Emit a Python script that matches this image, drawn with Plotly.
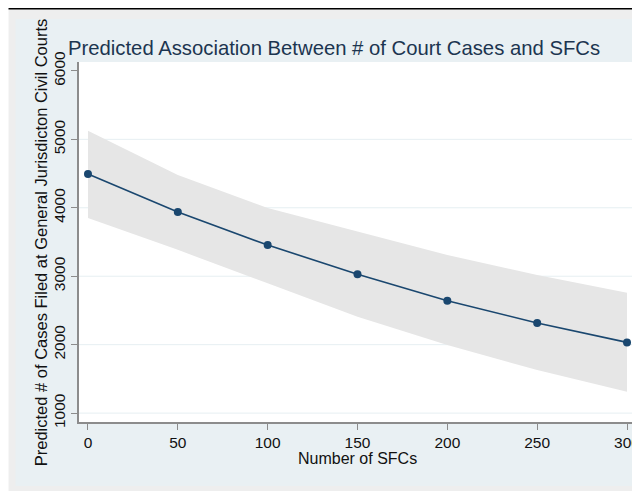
import plotly.graph_objects as go

# Data
sfcs = [0, 50, 100, 150, 200, 250, 300]
predicted = [4495, 3940, 3455, 3030, 2642, 2316, 2033]
upper_ci = [5125, 4480, 3995, 3650, 3310, 3018, 2760]
lower_ci = [3850, 3385, 2896, 2408, 1994, 1630, 1312]
x_ticks = [0, 50, 100, 150, 200, 250, 300]
y_ticks = [1000, 2000, 3000, 4000, 5000, 6000]
y_grid = [1000, 2000, 3000, 4000, 5000]

title_text = "Predicted Association Between # of Court Cases and SFCs"
x_title = "Number of SFCs"
y_title = "Predicted # of Cases Filed at General Jurisdicton Civil Courts"

NAVY = "#1a476f"
FONT = "Liberation Sans, Arial, sans-serif"

# page has an 8px body margin, so the figure is 8px smaller than the window
W, H = 632, 483
L, R, T, B = 71, 0, 54, 69
pw = W - L - R
ph = H - T - B


def px_x(p):
    return (p - L) / pw


def px_y(p):
    return (H - B - p) / ph


fig = go.Figure()

# confidence band
fig.add_trace(go.Scatter(
    x=sfcs + sfcs[::-1],
    y=upper_ci + lower_ci[::-1],
    fill="toself", fillcolor="#e6e6e6",
    line=dict(width=0), mode="lines", hoverinfo="skip", showlegend=False,
))
# predicted line
fig.add_trace(go.Scatter(
    x=sfcs, y=predicted, mode="lines+markers",
    line=dict(color=NAVY, width=1.6),
    marker=dict(color=NAVY, size=8),
    showlegend=False,
))

shapes = [
    # outer gray frame
    dict(type="rect", xref="paper", yref="paper", x0=px_x(0), x1=1.02,
         y0=px_y(484), y1=px_y(1), fillcolor="#eeeeee", line=dict(width=0), layer="below"),
    # bluish graph region
    dict(type="rect", xref="paper", yref="paper", x0=px_x(7), x1=1.02,
         y0=px_y(478), y1=px_y(11), fillcolor="#e9f0f3", line=dict(width=0), layer="below"),
    # white plot region
    dict(type="rect", xref="paper", yref="paper", x0=0, x1=1.02,
         y0=0, y1=1, fillcolor="white", line=dict(width=0), layer="below"),
    # black top rule
    dict(type="line", xref="paper", yref="paper", x0=px_x(0), x1=1.02,
         y0=px_y(0.75), y1=px_y(0.75), line=dict(color="black", width=1.5)),
]
# horizontal gridlines (none at the top tick, as in the reference)
for gv in y_grid:
    shapes.append(dict(type="line", xref="paper", yref="y", x0=0, x1=1.02,
                       y0=gv, y1=gv, line=dict(color="#e6eff2", width=1), layer="below"))

annotations = [
    dict(text=y_title, xref="paper", yref="paper", x=px_x(33), y=0.5,
         textangle=-90, showarrow=False, xanchor="center", yanchor="middle",
         font=dict(family=FONT, size=16.5, color="#111111")),
    dict(text=x_title, xref="paper", yref="paper", x=0.5, y=px_y(450),
         showarrow=False, xanchor="center", yanchor="middle",
         font=dict(family=FONT, size=16, color="#111111")),
]

fig.update_layout(
    width=W, height=H,
    margin=dict(l=L, r=R, t=T, b=B, pad=0),
    paper_bgcolor="white",
    plot_bgcolor="rgba(0,0,0,0)",
    shapes=shapes,
    annotations=annotations,
    title=dict(text=title_text, x=60 / W, xref="container", xanchor="left",
               y=1 - 40 / H, yref="container", yanchor="middle",
               font=dict(family=FONT, size=20.3, color="#1c3550")),
    font=dict(family=FONT, color="#111111"),
    showlegend=False,
)

fig.update_xaxes(
    range=[-5, 305], tickvals=x_ticks, ticktext=[str(v) for v in x_ticks],
    showgrid=False, zeroline=False,
    showline=True, linecolor="#8c8c8c", linewidth=1.5,
    ticks="outside", ticklen=6, tickcolor="#8c8c8c", tickwidth=1,
    ticklabeloverflow="allow",
    tickfont=dict(family=FONT, size=15.5, color="#111111"),
)
fig.update_yaxes(
    range=[870, 6130], tickvals=y_ticks, ticktext=[str(v) for v in y_ticks],
    showgrid=False, zeroline=False,
    showline=True, linecolor="#8c8c8c", linewidth=1.5,
    ticks="outside", ticklen=6, tickcolor="#8c8c8c", tickwidth=1,
    tickangle=-90,
    tickfont=dict(family=FONT, size=15.5, color="#111111"),
)

fig.write_html("out.html")
